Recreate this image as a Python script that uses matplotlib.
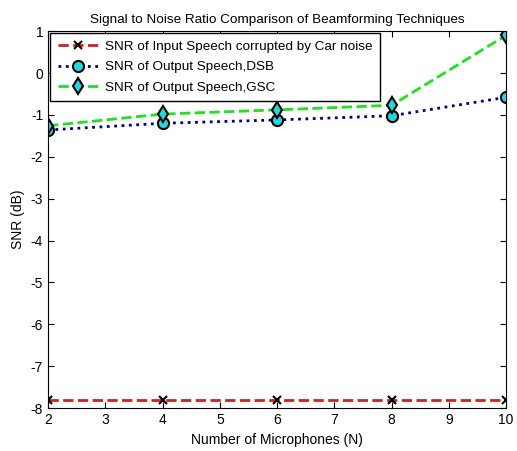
import matplotlib
matplotlib.use("Agg")
import matplotlib.pyplot as plt

plt.rcParams["font.family"] = ["Liberation Sans", "DejaVu Sans"]
plt.rcParams["axes.unicode_minus"] = False

mics = [2, 4, 6, 8, 10]
snr_input = [-7.8, -7.8, -7.8, -7.8, -7.8]
snr_dsb = [-1.36, -1.2, -1.12, -1.02, -0.58]
snr_gsc = [-1.26, -0.98, -0.88, -0.77, 0.9]

fig = plt.figure(figsize=(5.17, 4.51), dpi=100)
ax = fig.add_axes([0.093, 0.095, 0.886, 0.836])

ax.plot(mics, snr_input, "--", color="#d02020", lw=2, marker="x", ms=6,
        mec="black", mew=1.5, label="SNR of Input Speech corrupted by Car noise")
ax.plot(mics, snr_dsb, ":", color="#000080", lw=2, marker="o", ms=8,
        mfc="#20d8e0", mec="black", mew=1.5, label="SNR of Output Speech,DSB")
ax.plot(mics, snr_gsc, "--", color="#20e020", lw=2, marker="d", ms=8,
        mfc="#20d8e0", mec="black", mew=1.5, label="SNR of Output Speech,GSC")

ax.set_xlim(2, 10)
ax.set_ylim(-8, 1)
ax.set_xticks(range(2, 11))
ax.set_yticks(range(-8, 2))
ax.tick_params(direction="in", labelsize=10, length=4, top=True, right=True)
ax.set_xlabel("Number of Microphones (N)", fontsize=10)
ax.set_ylabel("SNR (dB)", fontsize=10)
ax.set_title("Signal to Noise Ratio Comparison of Beamforming Techniques", fontsize=9.7)
leg = ax.legend(loc="upper left", fontsize=9.7, fancybox=False, framealpha=1,
                edgecolor="black", borderaxespad=0.15, handlelength=3.0,
                handletextpad=0.5, borderpad=0.55, labelspacing=0.6)
leg.get_frame().set_linewidth(1)

fig.savefig("out.png", dpi=100)
